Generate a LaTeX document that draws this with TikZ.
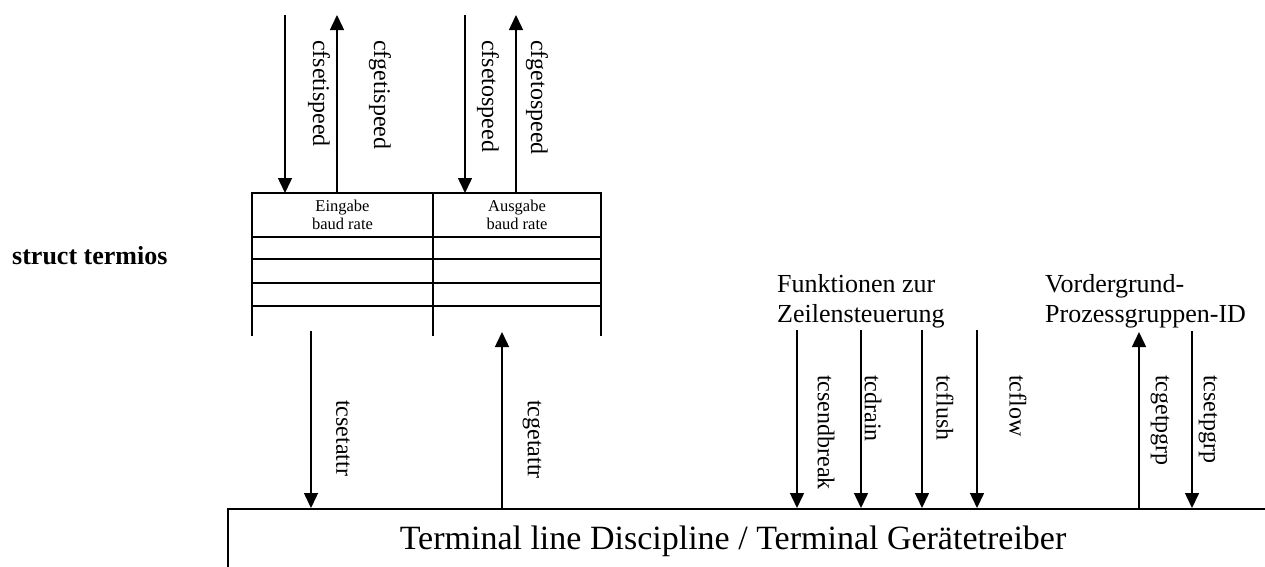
\documentclass[tikz,border=0pt]{standalone}
\usepackage{fontspec}
\setmainfont{Liberation Serif}
\usetikzlibrary{arrows.meta}
\begin{document}
\begin{tikzpicture}[x=1pt,y=-1pt,
  conn/.style={line width=1.5pt,-{Triangle[length=15pt,width=14pt]}},
  frame/.style={line width=1.6pt},
  vlabel/.style={rotate=-90,anchor=west,inner sep=0pt,font=\fontsize{24}{24}\selectfont},
  caption/.style={font=\fontsize{26}{30}\selectfont,align=left,anchor=north west,inner sep=0pt},
  cell/.style={font=\fontsize{16.5}{18}\selectfont,align=center,inner sep=0pt}
]
\useasboundingbox (0,0) rectangle (1265,566);
\clip (0,0) rectangle (1265,566);

% struct termios label
\node[font=\bfseries\fontsize{26}{26}\selectfont,anchor=base west,inner sep=0pt] (st) at (12,264) {struct termios};

% table
\coordinate (tl) at (252,193);
\coordinate (tm) at (433,193);
\coordinate (tr) at (601,193);
\draw[frame] (252,336) -- (tl) -- (tr) -- (601,336);
\draw[frame] (tm) -- (433,336);
\foreach \yy in {237,259,283,306} \draw[frame] (252,\yy) -- (601,\yy);
\node[cell] (ein) at (342.5,215) {Eingabe\\baud rate};
\node[cell] (aus) at (517,215) {Ausgabe\\baud rate};

% top arrows
\coordinate (a1t) at (285,15);  \coordinate (a1b) at (285,193);
\coordinate (a2t) at (337,15);  \coordinate (a2b) at (337,193);
\coordinate (a3t) at (465,15);  \coordinate (a3b) at (465,193);
\coordinate (a4t) at (516,15);  \coordinate (a4b) at (516,193);
\draw[conn] (a1t) -- (a1b);
\draw[conn] (a2b) -- (a2t);
\draw[conn] (a3t) -- (a3b);
\draw[conn] (a4b) -- (a4t);
\node[vlabel] (l1) at (319,40) {cfsetispeed};
\node[vlabel] (l2) at (380,40) {cfgetispeed};
\node[vlabel] (l3) at (488,40) {cfsetospeed};
\node[vlabel] (l4) at (537,40) {cfgetospeed};

% bottom box
\node[draw,frame,anchor=north west,minimum width=1100pt,minimum height=120pt,inner sep=0pt] (ld) at (227,508) {};
\node[font=\fontsize{34}{34}\selectfont,anchor=base,inner sep=0pt] (ldt) at (733,549) {Terminal line Discipline / Terminal Gerätetreiber};

% captions
\node[caption] (fz) at (777,274) {Funktionen zur\\Zeilensteuerung};
\node[caption] (vp) at (1045,274) {Vordergrund-\\Prozessgruppen-ID};

% lower arrows
\foreach \n/\xx/\yt in {b1/311/331,b2/502/332,b3/797/330,b4/861/330,b5/922/330,b6/977/330,b7/1139/332,b8/1192/331}{
  \coordinate (\n t) at (\xx,\yt);
  \coordinate (\n b) at (\xx,508);
}
\draw[conn] (b1t) -- (b1b);
\draw[conn] (b2b) -- (b2t);
\draw[conn] (b3t) -- (b3b);
\draw[conn] (b4t) -- (b4b);
\draw[conn] (b5t) -- (b5b);
\draw[conn] (b6t) -- (b6b);
\draw[conn] (b7b) -- (b7t);
\draw[conn] (b8t) -- (b8b);
\node[vlabel] (m1) at (343,400) {tcsetattr};
\node[vlabel] (m2) at (532,400) {tcgetattr};
\node[vlabel] (m3) at (826,375) {tcsendbreak};
\node[vlabel] (m4) at (873,375) {tcdrain};
\node[vlabel] (m5) at (945,375) {tcflush};
\node[vlabel] (m6) at (1018,375) {tcflow};
\node[vlabel] (m7) at (1160,375) {tcgetpgrp};
\node[vlabel] (m8) at (1208,375) {tcsetpgrp};
\end{tikzpicture}
\end{document}
